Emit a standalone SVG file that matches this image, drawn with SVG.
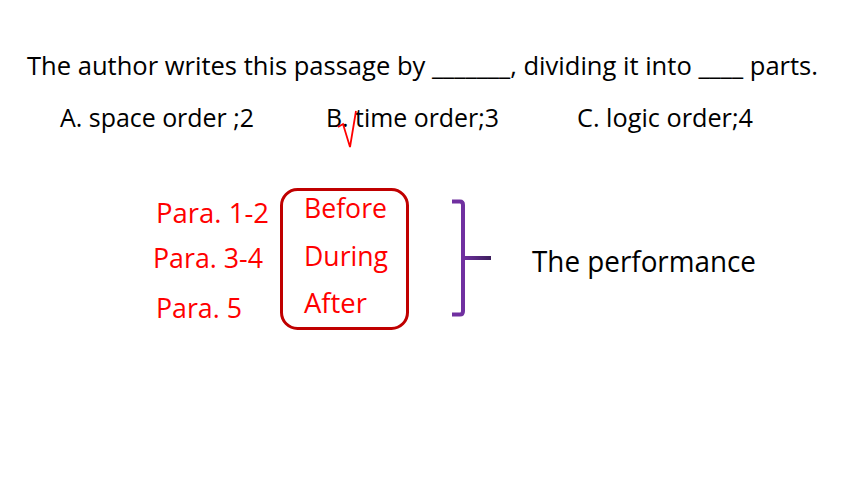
<svg xmlns="http://www.w3.org/2000/svg" width="860" height="484" viewBox="0 0 860 484">
<style>
text{font-family:"Open Sans",Lato,"Liberation Sans",sans-serif;}
.blk{fill:#000;font-size:25.5px;}
.red{fill:#FF0000;font-size:26.5px;}
.brace{fill:none;stroke:#7030A0;stroke-width:4;stroke-linejoin:round;stroke-linecap:butt;}
</style>
<defs>
<linearGradient id="tick" x1="0" y1="0" x2="1" y2="0">
<stop offset="0" stop-color="#7030A0"/>
<stop offset="1" stop-color="#3C1E5C"/>
</linearGradient>
</defs>
<rect width="860" height="484" fill="#fff"/>
<g id="question">
<text class="blk" x="27" y="75" textLength="791" lengthAdjust="spacingAndGlyphs">The author writes this passage by _______, dividing it into ____ parts.</text>
</g>
<g id="optionA"><text class="blk" x="60" y="127" textLength="194" lengthAdjust="spacingAndGlyphs">A. space order ;2</text></g>
<g id="optionB"><text class="blk" x="326" y="127" textLength="173" lengthAdjust="spacingAndGlyphs">B. time order;3</text></g>
<g id="optionC"><text class="blk" x="577" y="127" textLength="176" lengthAdjust="spacingAndGlyphs">C. logic order;4</text></g>
<g id="check"><polyline points="338,127 343,124 350,147 356,111" fill="none" stroke="#FF0000" stroke-width="1.8" stroke-linejoin="miter"/></g>
<g id="paras">
<text class="red" x="156" y="223" textLength="113" lengthAdjust="spacingAndGlyphs">Para. 1-2</text>
<text class="red" x="153" y="268" textLength="110" lengthAdjust="spacingAndGlyphs">Para. 3-4</text>
<text class="red" x="156" y="318" textLength="86" lengthAdjust="spacingAndGlyphs">Para. 5</text>
</g>
<g id="box">
<rect x="281.5" y="189.5" width="126" height="139" rx="16" ry="16" fill="none" stroke="#C00000" stroke-width="3"/>
<text class="red" x="304" y="218" textLength="83" lengthAdjust="spacingAndGlyphs">Before</text>
<text class="red" x="304" y="266" textLength="84" lengthAdjust="spacingAndGlyphs">During</text>
<text class="red" x="304" y="313" textLength="63" lengthAdjust="spacingAndGlyphs">After</text>
</g>
<g id="connectors">
<path class="brace" d="M452,201.5 H460 Q463,201.5 463,205 V311 Q463,314.5 460,314.5 H452"/>
<rect x="463" y="256" width="28" height="4" fill="url(#tick)"/>
</g>
<g id="performance">
<text class="blk" x="532" y="272" textLength="224" lengthAdjust="spacingAndGlyphs" style="font-size:29.5px">The performance</text>
</g>
</svg>
